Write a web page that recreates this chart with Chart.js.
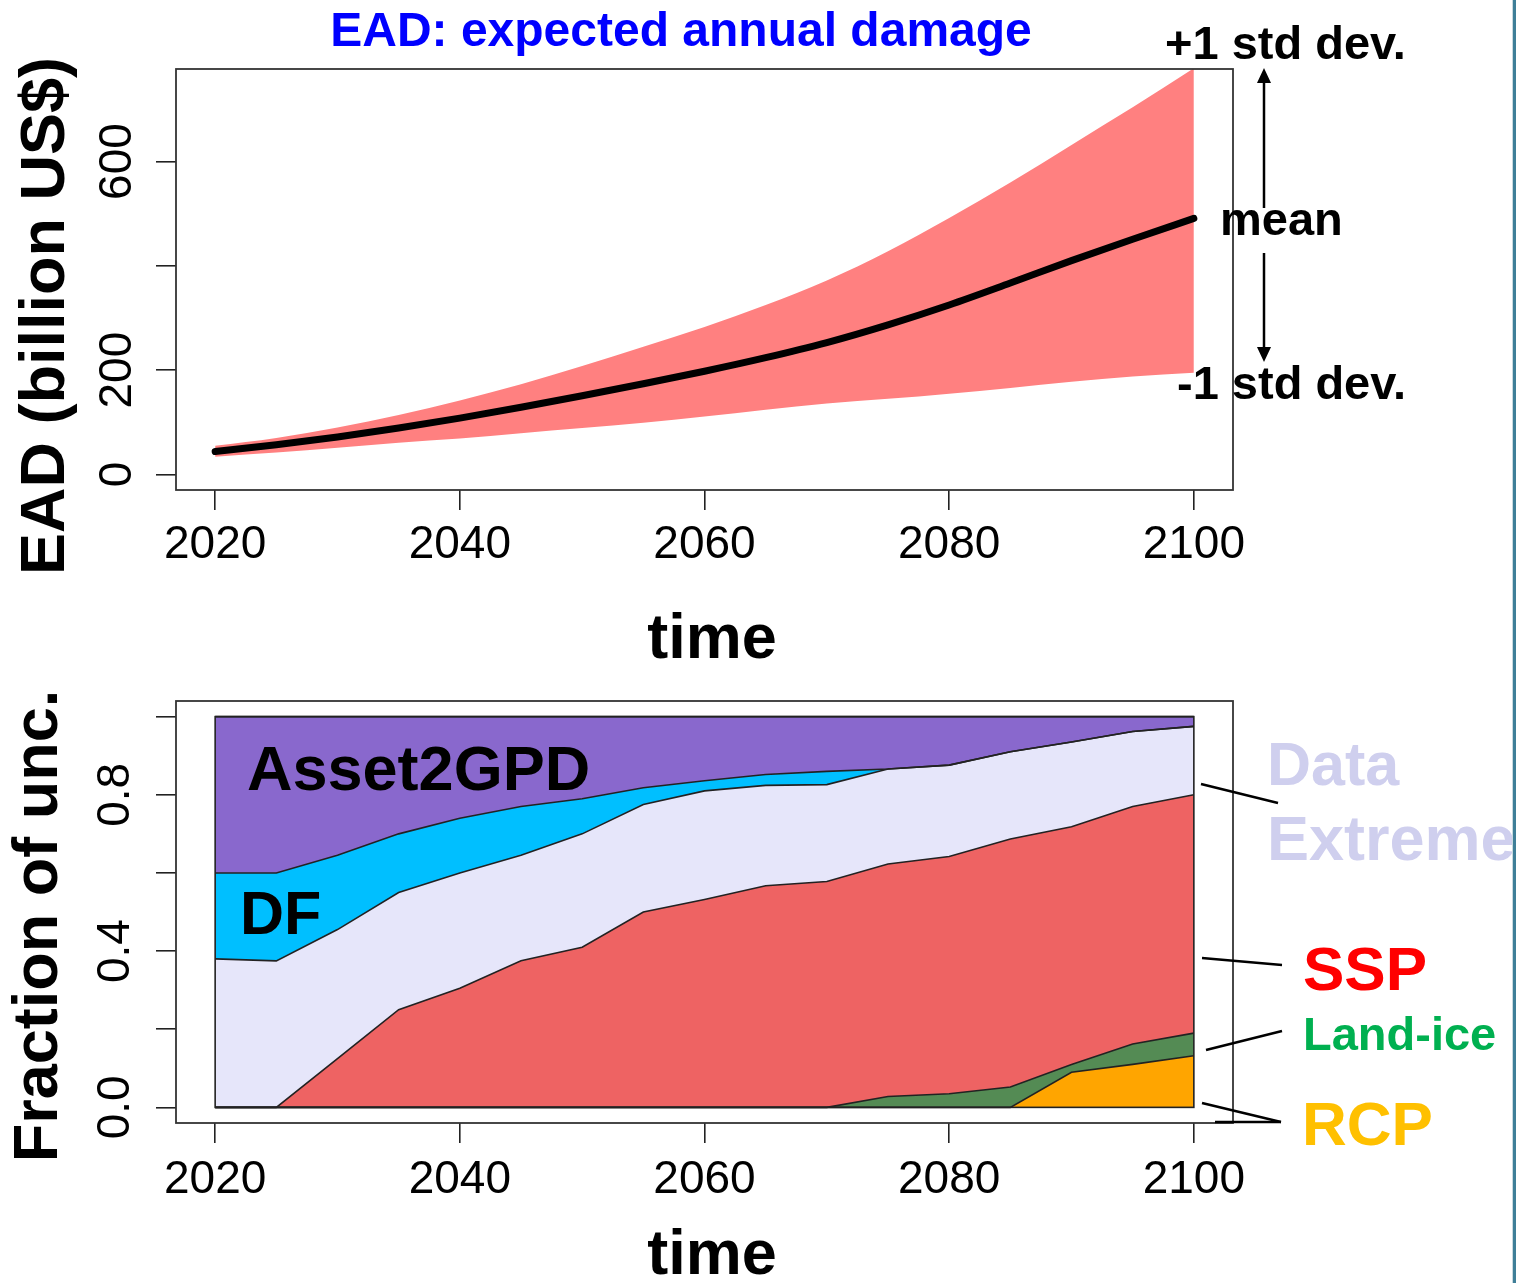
<!DOCTYPE html>
<html>
<head>
<meta charset="utf-8">
<script src="https://cdn.jsdelivr.net/npm/chart.js@4.4.0/dist/chart.umd.min.js"></script>
<style>
  html, body { margin: 0; padding: 0; background: #fff; }
  #wrap { position: relative; width: 1518px; height: 1283px; overflow: hidden; }
  canvas { position: absolute; left: 0; }
  #topChart { top: 0; }
  #botChart { top: 665px; }
  #edge { position: absolute; left: 1512px; top: 0; width: 3px; height: 1283px; background: #3f7f98; border-left: 1px solid #c9d9e0; }
</style>
</head>
<body>
<div id="wrap">
  <canvas id="topChart" width="1518" height="665"></canvas>
  <canvas id="botChart" width="1518" height="618"></canvas>
  <div id="edge"></div>
</div>
<script>
  // --- data ---
  const years = [2020, 2025, 2030, 2035, 2040, 2045, 2050, 2055, 2060, 2065, 2070, 2075, 2080, 2085, 2090, 2095, 2100];

  // EAD, billion US$
  const eadLower = [34, 42, 51, 61, 69, 79, 89, 99, 111, 124, 136, 145, 155, 166, 178, 188, 195];
  const eadMean  = [44, 57, 72, 89, 108, 129, 151, 174, 198, 224, 253, 287, 325, 367, 410, 451, 491];
  const eadUpper = [55, 70, 90, 114, 142, 173, 208, 245, 283, 325, 372, 428, 492, 560, 632, 704, 779];

  // fraction of uncertainty, stacked bottom -> top
  const rcp         = [0, 0, 0, 0, 0, 0, 0, 0, 0, 0, 0, 0, 0, 0, 0.09, 0.11, 0.132];
  const landIce     = [0, 0, 0, 0, 0, 0, 0, 0, 0, 0, 0, 0.028, 0.035, 0.052, 0.02, 0.052, 0.058];
  const ssp         = [0, 0, 0.125, 0.25, 0.305, 0.375, 0.41, 0.5, 0.532, 0.567, 0.578, 0.595, 0.607, 0.635, 0.608, 0.608, 0.61];
  const dataExtreme = [0.38, 0.375, 0.33, 0.3, 0.295, 0.27, 0.29, 0.275, 0.278, 0.257, 0.248, 0.243, 0.234, 0.223, 0.217, 0.192, 0.175];
  const df          = [0.22, 0.225, 0.19, 0.15, 0.14, 0.125, 0.09, 0.043, 0.026, 0.028, 0.034, 0, 0, 0, 0, 0, 0];
  const asset2gpd   = [0.4, 0.4, 0.355, 0.3, 0.26, 0.23, 0.21, 0.182, 0.164, 0.148, 0.14, 0.134, 0.124, 0.09, 0.065, 0.038, 0.025];

  const xTicks = [2020, 2040, 2060, 2080, 2100];
  const eadTicks = [0, 200, 400, 600];
  const eadTickLabels = ['0', '200', '', '600'];   // R drops the crowded one
  const fracTicks = [0, 0.2, 0.4, 0.6, 0.8, 1.0];
  const fracTickLabels = ['0.0', '', '0.4', '', '0.8', ''];

  const FONT = '"Liberation Sans", Arial, Helvetica, sans-serif';
  const BOT_OFF = 665;  // page y of bottom canvas

  const pts = arr => arr.map((v, i) => ({ x: years[i], y: v }));

  function put(ctx, s, x, y, o) {
    ctx.save();
    ctx.font = (o.bold ? 'bold ' : '') + o.size + 'px ' + FONT;
    ctx.fillStyle = o.color || '#000';
    ctx.textAlign = o.align || 'left';
    ctx.textBaseline = o.base || 'alphabetic';
    ctx.translate(x, y);
    if (o.rot) ctx.rotate(o.rot);
    ctx.fillText(s, 0, 0);
    ctx.restore();
  }

  function seg(ctx, x1, y1, x2, y2, w) {
    ctx.save();
    ctx.strokeStyle = '#000';
    ctx.lineWidth = w || 2.5;
    ctx.beginPath(); ctx.moveTo(x1, y1); ctx.lineTo(x2, y2); ctx.stroke();
    ctx.restore();
  }

  function arrowHead(ctx, x, tipY, dir) {
    // dir -1 = pointing up, 1 = pointing down
    ctx.save();
    ctx.fillStyle = '#000';
    ctx.beginPath();
    ctx.moveTo(x, tipY);
    ctx.lineTo(x - 7, tipY - dir * 15);
    ctx.lineTo(x + 7, tipY - dir * 15);
    ctx.closePath(); ctx.fill();
    ctx.restore();
  }

  function yLabels(ctx, scale, ticks, labels, x) {
    ticks.forEach((t, i) => {
      if (!labels[i]) return;
      put(ctx, labels[i], x, scale.getPixelForValue(t), { size: 46, align: 'center', base: 'middle', rot: -Math.PI / 2 });
    });
  }

  function xAxis(min, max, height, pad) {
    return {
      type: 'linear', min, max,
      afterBuildTicks: a => { a.ticks = xTicks.map(v => ({ value: v })); },
      afterFit: a => { a.height = height; },
      ticks: { callback: v => String(v), font: { family: FONT, size: 46 }, color: '#000', padding: pad, maxRotation: 0, autoSkip: false },
      grid: { drawOnChartArea: false, tickLength: 20, color: '#222', lineWidth: 1.6 },
      border: { display: false }
    };
  }

  function yAxis(min, max, ticks, stacked) {
    return {
      type: 'linear', min, max, stacked: !!stacked,
      afterBuildTicks: a => { a.ticks = ticks.map(v => ({ value: v })); },
      afterFit: a => { a.width = 176; },
      ticks: { display: false },
      grid: { drawOnChartArea: false, tickLength: 20, color: '#222', lineWidth: 1.6 },
      border: { display: false }
    };
  }

  function drawBox(ctx, ca) {
    ctx.save();
    ctx.strokeStyle = '#333';
    ctx.lineWidth = 1.8;
    ctx.strokeRect(ca.left, ca.top, ca.right - ca.left, ca.bottom - ca.top);
    ctx.restore();
  }

  // --- top: EAD ---
  const topDecor = {
    id: 'topDecor',
    afterDraw(chart) {
      const ctx = chart.ctx, ca = chart.chartArea;
      drawBox(ctx, ca);
      yLabels(ctx, chart.scales.y, eadTicks, eadTickLabels, 118);

      put(ctx, 'EAD: expected annual damage', 681, 46, { bold: true, size: 48, color: '#0000ff', align: 'center' });
      put(ctx, 'EAD (billion US$)', 47, 316, { bold: true, size: 63, align: 'center', base: 'middle', rot: -Math.PI / 2 });
      put(ctx, 'time', 712, 658, { bold: true, size: 63, align: 'center' });

      put(ctx, '+1 std dev.', 1165, 59, { bold: true, size: 47 });
      put(ctx, 'mean', 1220, 235, { bold: true, size: 47 });
      put(ctx, '-1 std dev.', 1177, 399, { bold: true, size: 47 });

      seg(ctx, 1264, 80, 1264, 208, 2.5);
      arrowHead(ctx, 1264, 68, -1);
      seg(ctx, 1264, 253, 1264, 350, 2.5);
      arrowHead(ctx, 1264, 362, 1);
    }
  };

  new Chart(document.getElementById('topChart'), {
    type: 'line',
    data: {
      datasets: [
        { label: 'mean', data: pts(eadMean), borderColor: '#000', borderWidth: 7, borderCapStyle: 'round', borderJoinStyle: 'round', fill: false, cubicInterpolationMode: 'monotone' },
        { label: '-1 std dev', data: pts(eadLower), borderWidth: 0, borderColor: 'rgba(0,0,0,0)', fill: false, cubicInterpolationMode: 'monotone' },
        { label: '+1 std dev', data: pts(eadUpper), borderWidth: 0, borderColor: 'rgba(0,0,0,0)', backgroundColor: 'rgb(255,128,128)', fill: '-1', cubicInterpolationMode: 'monotone' }
      ]
    },
    options: {
      responsive: false,
      animation: false,
      devicePixelRatio: 1,
      layout: { padding: { left: 0, right: 285, top: 69, bottom: 0 } },
      elements: { point: { radius: 0 } },
      plugins: { legend: { display: false }, tooltip: { enabled: false }, filler: { drawTime: 'beforeDatasetsDraw' } },
      scales: { x: xAxis(2016.8, 2103.2, 175, 8), y: yAxis(-29.8, 777.5, eadTicks) }
    },
    plugins: [topDecor]
  });

  // --- bottom: fraction of uncertainty ---
  const botDecor = {
    id: 'botDecor',
    afterDatasetsDraw(chart) {
      // polygon outline of the stacked block
      const ctx = chart.ctx, xs = chart.scales.x, ys = chart.scales.y;
      const l = xs.getPixelForValue(years[0]), r = xs.getPixelForValue(years[years.length - 1]);
      const t = ys.getPixelForValue(1), b = ys.getPixelForValue(0);
      ctx.save();
      ctx.strokeStyle = '#222';
      ctx.lineWidth = 1.6;
      ctx.strokeRect(l, t, r - l, b - t);
      ctx.restore();
    },
    afterDraw(chart) {
      const ctx = chart.ctx, ca = chart.chartArea, o = BOT_OFF;
      drawBox(ctx, ca);
      yLabels(ctx, chart.scales.y, fracTicks, fracTickLabels, 116);

      put(ctx, 'Fraction of unc.', 40, 926 - o, { bold: true, size: 63, align: 'center', base: 'middle', rot: -Math.PI / 2 });
      put(ctx, 'time', 712, 1274 - o, { bold: true, size: 63, align: 'center' });

      put(ctx, 'Asset2GPD', 247, 790 - o, { bold: true, size: 63 });
      put(ctx, 'DF', 240, 934 - o, { bold: true, size: 61 });

      put(ctx, 'Data', 1267, 785 - o, { bold: true, size: 61, color: '#cfcfee' });
      put(ctx, 'Extreme', 1267, 860 - o, { bold: true, size: 63, color: '#cfcfee' });
      put(ctx, 'SSP', 1303, 990 - o, { bold: true, size: 62, color: '#ff0000' });
      put(ctx, 'Land-ice', 1303, 1050 - o, { bold: true, size: 47, color: '#00b050' });
      put(ctx, 'RCP', 1302, 1145 - o, { bold: true, size: 62, color: '#ffc000' });

      seg(ctx, 1201, 784 - o, 1278, 803 - o, 2.5);
      seg(ctx, 1202, 958 - o, 1282, 965 - o, 2.5);
      seg(ctx, 1206, 1050 - o, 1282, 1031 - o, 2.5);
      seg(ctx, 1202, 1103 - o, 1281, 1122 - o, 2.5);
      seg(ctx, 1215, 1122 - o, 1281, 1122 - o, 2.5);
    }
  };

  const layer = (label, arr, color, fill) => ({
    label, data: pts(arr), backgroundColor: color, borderColor: '#222', borderWidth: 1.6, fill, tension: 0
  });

  new Chart(document.getElementById('botChart'), {
    type: 'line',
    data: {
      datasets: [
        layer('RCP', rcp, '#ffa500', 'origin'),
        layer('Land-ice', landIce, '#548b54', '-1'),
        layer('SSP', ssp, '#ee6363', '-1'),
        layer('Data Extreme', dataExtreme, '#e6e6fa', '-1'),
        layer('DF', df, '#00bfff', '-1'),
        layer('Asset2GPD', asset2gpd, '#8968cd', '-1')
      ]
    },
    options: {
      responsive: false,
      animation: false,
      devicePixelRatio: 1,
      layout: { padding: { left: 0, right: 285, top: 36, bottom: 0 } },
      elements: { point: { radius: 0 } },
      plugins: { legend: { display: false }, tooltip: { enabled: false }, filler: { drawTime: 'beforeDatasetsDraw' } },
      scales: { x: xAxis(2016.8, 2103.2, 160, 10), y: yAxis(-0.04, 1.04, fracTicks, true) }
    },
    plugins: [botDecor]
  });
</script>
</body>
</html>
